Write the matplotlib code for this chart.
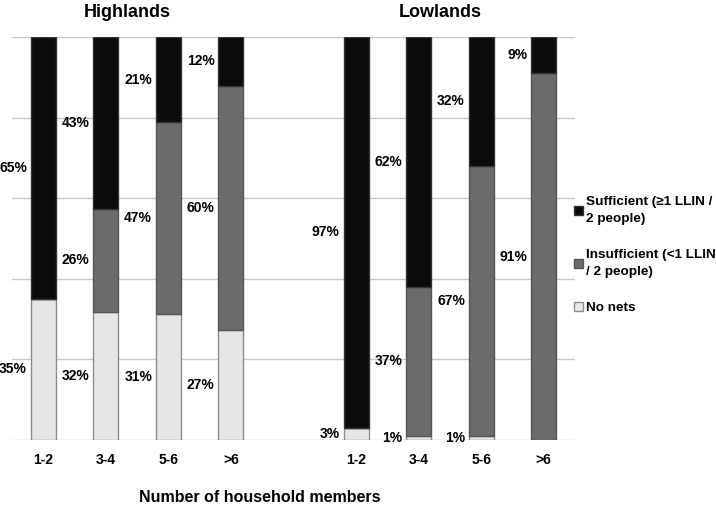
import matplotlib.pyplot as plt
import numpy as np

plt.rcParams['font.family'] = ['Liberation Sans', 'DejaVu Sans']
plt.rcParams['font.weight'] = 'bold'

# Household size categories, per region
categories = ['1-2', '3-4', '5-6', '>6']
regions = ['Highlands', 'Lowlands']

# Percentages (bottom to top: no nets, insufficient, sufficient)
high_no_nets = [35, 32, 31, 27]
high_insufficient = [0, 26, 47, 60]
high_sufficient = [65, 43, 21, 12]

low_no_nets = [3, 1, 1, 0]
low_insufficient = [0, 37, 67, 91]
low_sufficient = [97, 62, 32, 9]

series_names = ['Sufficient (\u22651 LLIN /\n2 people)', 'Insufficient (<1 LLIN\n/ 2 people)', 'No nets']
colors = {'no': '#e6e6e6', 'ins': '#6b6b6b', 'suf': '#0b0b0b'}

fig = plt.figure(figsize=(7.16, 5.08), dpi=100)
ax = fig.add_axes([12 / 716, 68 / 508, 563 / 716, 403 / 508])

xpos = np.array([0, 1, 2, 3, 5, 6, 7, 8])
no_nets = np.array(high_no_nets + low_no_nets, dtype=float)
insuff = np.array(high_insufficient + low_insufficient, dtype=float)
suff = np.array(high_sufficient + low_sufficient, dtype=float)
total = no_nets + insuff + suff

# 100% stacked
p_no = no_nets / total * 100
p_ins = insuff / total * 100
p_suf = suff / total * 100

w = 0.4
edge = '#8c8c8c'
b3 = ax.bar(xpos, p_no, w, color=colors['no'], edgecolor=edge, linewidth=1, zorder=3)
b2 = ax.bar(xpos, p_ins, w, bottom=p_no, color=colors['ins'], edgecolor='#555555', linewidth=1, zorder=3)
b1 = ax.bar(xpos, p_suf, w, bottom=p_no + p_ins, color=colors['suf'], edgecolor='#333333', linewidth=1, zorder=3)

# value labels left of each segment
for raw, pct, base in [(no_nets, p_no, np.zeros(8)), (insuff, p_ins, p_no), (suff, p_suf, p_no + p_ins)]:
    for x, r, p, b in zip(xpos, raw, pct, base):
        if r == 0:
            continue
        ax.text(x - w / 2 - 0.06, b + p / 2, f'{int(r)}%', ha='right', va='center',
                fontsize=10, fontweight='bold')

ax.set_xlim(-0.5, 8.5)
ax.set_ylim(0, 100)
ax.set_yticks([0, 20, 40, 60, 80, 100])
ax.yaxis.grid(True, color='#c8c8c8', linewidth=1)
ax.set_axisbelow(True)
ax.tick_params(axis='y', left=False, labelleft=False)
ax.tick_params(axis='x', bottom=False, pad=6)
ax.set_xticks(xpos)
ax.set_xticklabels(categories * 2, fontsize=10, fontweight='bold')
for s in ax.spines.values():
    s.set_visible(False)

ax.text(1.35, 1.06, regions[0], transform=ax.get_xaxis_transform(), ha='center', va='center',
        fontsize=13, fontweight='bold')
ax.text(6.35, 1.06, regions[1], transform=ax.get_xaxis_transform(), ha='center', va='center',
        fontsize=13, fontweight='bold')

fig.text(260 / 716, 1 - 497 / 508, 'Number of household members', ha='center', va='center',
         fontsize=11.5, fontweight='bold')

leg = fig.legend([b1, b2, b3], series_names, loc='upper left', bbox_to_anchor=(574 / 716, 1 - 196 / 508),
                 frameon=False, fontsize=9.7, handlelength=0.65, handleheight=0.65, handletextpad=0.25,
                 labelspacing=1.75, borderaxespad=0, borderpad=0)
for t in leg.get_texts():
    t.set_fontweight('bold')
    t.set_linespacing(1.6)

fig.savefig('out.png', dpi=100)
